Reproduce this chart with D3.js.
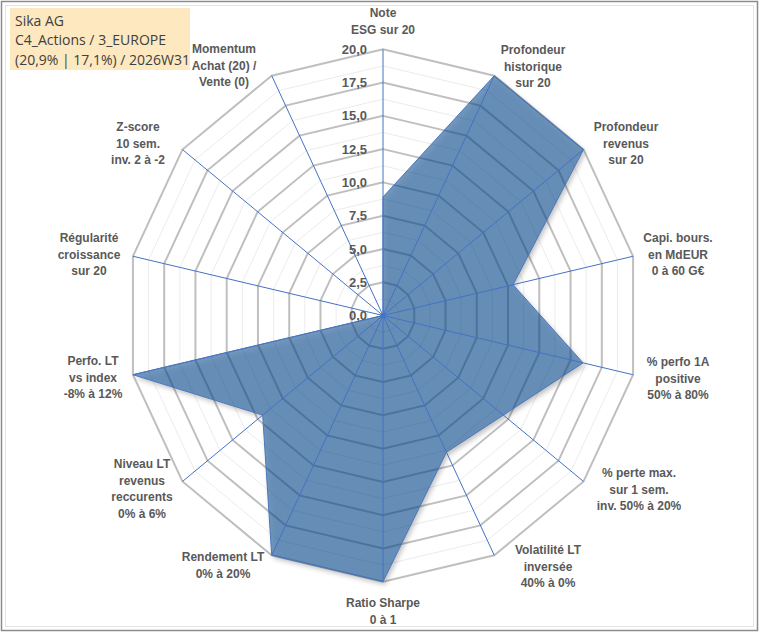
<!DOCTYPE html>
<html>
<head>
<meta charset="utf-8">
<script src="https://cdn.jsdelivr.net/npm/d3@7"></script>
<style>
  html, body { margin: 0; padding: 0; background: #fff; }
  svg { display: block; }
  .axis-label { font-family: "Liberation Sans", Arial, sans-serif; font-weight: bold; font-size: 12px; fill: #595959; }
  .tick-label { font-family: "Liberation Sans", Arial, sans-serif; font-weight: bold; font-size: 13px; fill: #595959; }
  .title-text { font-family: "Open Sans", "Liberation Sans", sans-serif; font-size: 14px; fill: #404040; }
</style>
</head>
<body>
<div id="chart"></div>
<script>
// axis labels, clockwise from the top
const axisLabels = [
    ["Note", "ESG sur 20"],
    ["Profondeur", "historique", "sur 20"],
    ["Profondeur", "revenus", "sur 20"],
    ["Capi. bours.", "en MdEUR", "0 à 60 G€"],
    ["% perfo 1A", "positive", "50% à 80%"],
    ["% perte max.", "sur 1 sem.", "inv. 50% à 20%"],
    ["Volatilité LT", "inversée", "40% à 0%"],
    ["Ratio Sharpe", "0 à 1"],
    ["Rendement LT", "0% à 20%"],
    ["Niveau LT", "revenus", "reccurents", "0% à 6%"],
    ["Perfo. LT", "vs index", "-8% à 12%"],
    ["Régularité", "croissance", "sur 20"],
    ["Z-score", "10 sem.", "inv. 2 à -2"],
    ["Momentum", "Achat (20) /", "Vente (0)"]
];

const scores = [8.9, 20, 20, 10.4, 16, 12, 11.4, 20, 20, 12, 20, 0, 0, 0];

const majorTicks = [0, 2.5, 5, 7.5, 10, 12.5, 15, 17.5, 20];
const minorTicks = [1.25, 3.75, 6.25, 8.75, 11.25, 13.75, 16.25, 18.75];

const titleLines = ["Sika AG", "C4_Actions / 3_EUROPE", "(20,9% | 17,1%) / 2026W31"];

// label anchor points (centre of the text block), same order as axisLabels
const labelSpots = [
    [383, 13], [533, 50], [626, 127], [678, 238], [678, 362], [639, 473], [548, 550],
    [383, 603], [223, 557], [142, 464], [93, 361], [89, 238], [138, 127], [224, 49]
];

const width = 760;
const height = 633;
const cx = 383;
const cy = 315.5;
const rx = 256.5;
const ry = 266.2;

const svg = d3.select("#chart")
    .append("svg")
    .attr("width", width)
    .attr("height", height);

// drop shadow only outside the shape, so the see-through fill stays clean
const defs = svg.append("defs");
const shadow = defs.append("filter")
    .attr("id", "shadow")
    .attr("x", "-10%").attr("y", "-10%")
    .attr("width", "130%").attr("height", "130%");
shadow.append("feGaussianBlur").attr("in", "SourceAlpha").attr("stdDeviation", 2.5).attr("result", "blur");
shadow.append("feOffset").attr("in", "blur").attr("dx", 2).attr("dy", 3).attr("result", "off");
shadow.append("feFlood").attr("flood-color", "#000").attr("flood-opacity", 0.45).attr("result", "col");
shadow.append("feComposite").attr("in", "col").attr("in2", "off").attr("operator", "in").attr("result", "sh");
shadow.append("feComposite").attr("in", "sh").attr("in2", "SourceAlpha").attr("operator", "out").attr("result", "shOut");
const merge = shadow.append("feMerge");
merge.append("feMergeNode").attr("in", "shOut");
merge.append("feMergeNode").attr("in", "SourceGraphic");

// frame
svg.append("rect")
    .attr("x", 1.5).attr("y", 1.5)
    .attr("width", width - 4).attr("height", height - 4)
    .attr("fill", "#fff")
    .attr("stroke", "#8c8c8c")
    .attr("stroke-width", 1.5);
svg.append("rect")
    .attr("x", 5.5).attr("y", 5.5)
    .attr("width", width - 12).attr("height", height - 12)
    .attr("fill", "none")
    .attr("stroke", "#e4e4e4")
    .attr("stroke-width", 1);

const n = axisLabels.length;
const angle = d3.scaleLinear().domain([0, n]).range([0, 2 * Math.PI]);
const radius = d3.scaleLinear().domain([0, 20]).range([0, 1]);

function point(i, v) {
    const a = angle(i);
    const f = radius(v);
    return [cx + rx * f * Math.sin(a), cy - ry * f * Math.cos(a)];
}

const ring = d3.line().curve(d3.curveLinearClosed);
const idx = d3.range(n);

// minor rings
svg.append("g")
    .selectAll("path")
    .data(minorTicks)
    .join("path")
    .attr("d", (t) => ring(idx.map((i) => point(i, t))))
    .attr("fill", "none")
    .attr("stroke", "#ececec")
    .attr("stroke-width", 1);

// major rings
svg.append("g")
    .selectAll("path")
    .data(majorTicks.filter((t) => t > 0))
    .join("path")
    .attr("d", (t) => ring(idx.map((i) => point(i, t))))
    .attr("fill", "none")
    .attr("stroke", "#bfbfbf")
    .attr("stroke-width", 2);

// series area
svg.append("path")
    .attr("d", ring(scores.map((v, i) => point(i, v))))
    .attr("fill", "#0a4689")
    .attr("fill-opacity", 0.55)
    .attr("stroke", "none")
    .attr("filter", "url(#shadow)");

// spokes
svg.append("g")
    .selectAll("line")
    .data(idx)
    .join("line")
    .attr("x1", cx).attr("y1", cy)
    .attr("x2", (i) => point(i, 20)[0])
    .attr("y2", (i) => point(i, 20)[1])
    .attr("stroke", "#4472c4")
    .attr("stroke-width", 1);

// series outline
svg.append("path")
    .attr("d", ring(scores.map((v, i) => point(i, v))))
    .attr("fill", "none")
    .attr("stroke", "#4a76bd")
    .attr("stroke-width", 1);

svg.append("circle")
    .attr("cx", cx).attr("cy", cy)
    .attr("r", 2.5)
    .attr("fill", "#4472c4");

// tick labels along the top axis
const fmt = (v) => d3.format(".1f")(v).replace(".", ",");
svg.append("g")
    .selectAll("text")
    .data(majorTicks)
    .join("text")
    .attr("class", "tick-label")
    .attr("x", cx - 16)
    .attr("y", (t) => point(0, t)[1])
    .attr("dy", "0.35em")
    .attr("text-anchor", "end")
    .text(fmt);

// axis labels
const lineHeight = 16.5;
const labels = svg.append("g")
    .selectAll("text")
    .data(axisLabels)
    .join("text")
    .attr("class", "axis-label")
    .attr("text-anchor", "middle")
    .attr("transform", (d, i) => `translate(${labelSpots[i][0]}, ${labelSpots[i][1]})`);

labels.selectAll("tspan")
    .data((d) => d)
    .join("tspan")
    .attr("x", 0)
    .attr("y", (d, j) => j * lineHeight)
    .attr("dy", "0.35em")
    .text((d) => d);

// title box
svg.append("rect")
    .attr("x", 10).attr("y", 8)
    .attr("width", 180).attr("height", 62)
    .attr("fill", "#fde8bf");

svg.append("g")
    .selectAll("text")
    .data(titleLines)
    .join("text")
    .attr("class", "title-text")
    .attr("x", 15)
    .attr("y", (d, i) => 21 + i * 19.5)
    .attr("dy", "0.35em")
    .text((d) => d);
</script>
</body>
</html>
